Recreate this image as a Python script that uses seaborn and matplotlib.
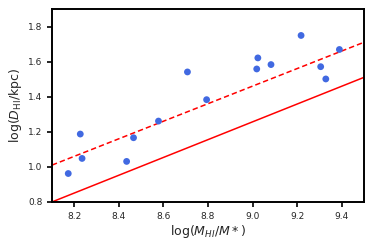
import numpy as np
import pandas as pd
import seaborn as sns
import matplotlib
matplotlib.use('Agg')
import matplotlib.pyplot as plt

# data
log_mhi_ratio = [8.173, 8.227, 8.235, 8.435, 8.466, 8.578, 8.708, 8.794,
                 9.019, 9.024, 9.083, 9.218, 9.306, 9.329, 9.390]
log_dhi = [0.962, 1.187, 1.048, 1.031, 1.166, 1.261, 1.541, 1.383,
           1.558, 1.621, 1.583, 1.749, 1.571, 1.501, 1.669]
line_x = [8.1, 9.5]
solid_y = [0.80, 1.51]
dashed_y = [1.01, 1.71]

df = pd.DataFrame({'x': log_mhi_ratio, 'y': log_dhi})

sns.set_style('ticks')
fig = plt.figure(figsize=(3.74, 2.49), dpi=100)
ax = fig.add_axes([0.139, 0.189, 0.834, 0.775])

ax.plot(line_x, solid_y, color='red', lw=1.1)
ax.plot(line_x, dashed_y, color='red', lw=1.1, ls='--', dashes=(3.5, 2))
sns.scatterplot(data=df, x='x', y='y', color='royalblue', s=24,
                edgecolor='none', ax=ax, zorder=3)

ax.set_xlim(8.1, 9.5)
ax.set_ylim(0.8, 1.9)
ax.set_xticks([8.2, 8.4, 8.6, 8.8, 9.0, 9.2, 9.4])
ax.set_yticks([0.8, 1.0, 1.2, 1.4, 1.6, 1.8])
ax.tick_params(labelsize=6.5, width=1.2, length=3.5, color='black')
for s in ax.spines.values():
    s.set_linewidth(1.4)
    s.set_color('black')
ax.set_xlabel(r'log($M_{HI}/M*$)', fontsize=9, labelpad=2)
ax.set_ylabel(r'log($D_{\rm HI}$/kpc)', fontsize=9, labelpad=3)

fig.savefig('out.png', dpi=100)
